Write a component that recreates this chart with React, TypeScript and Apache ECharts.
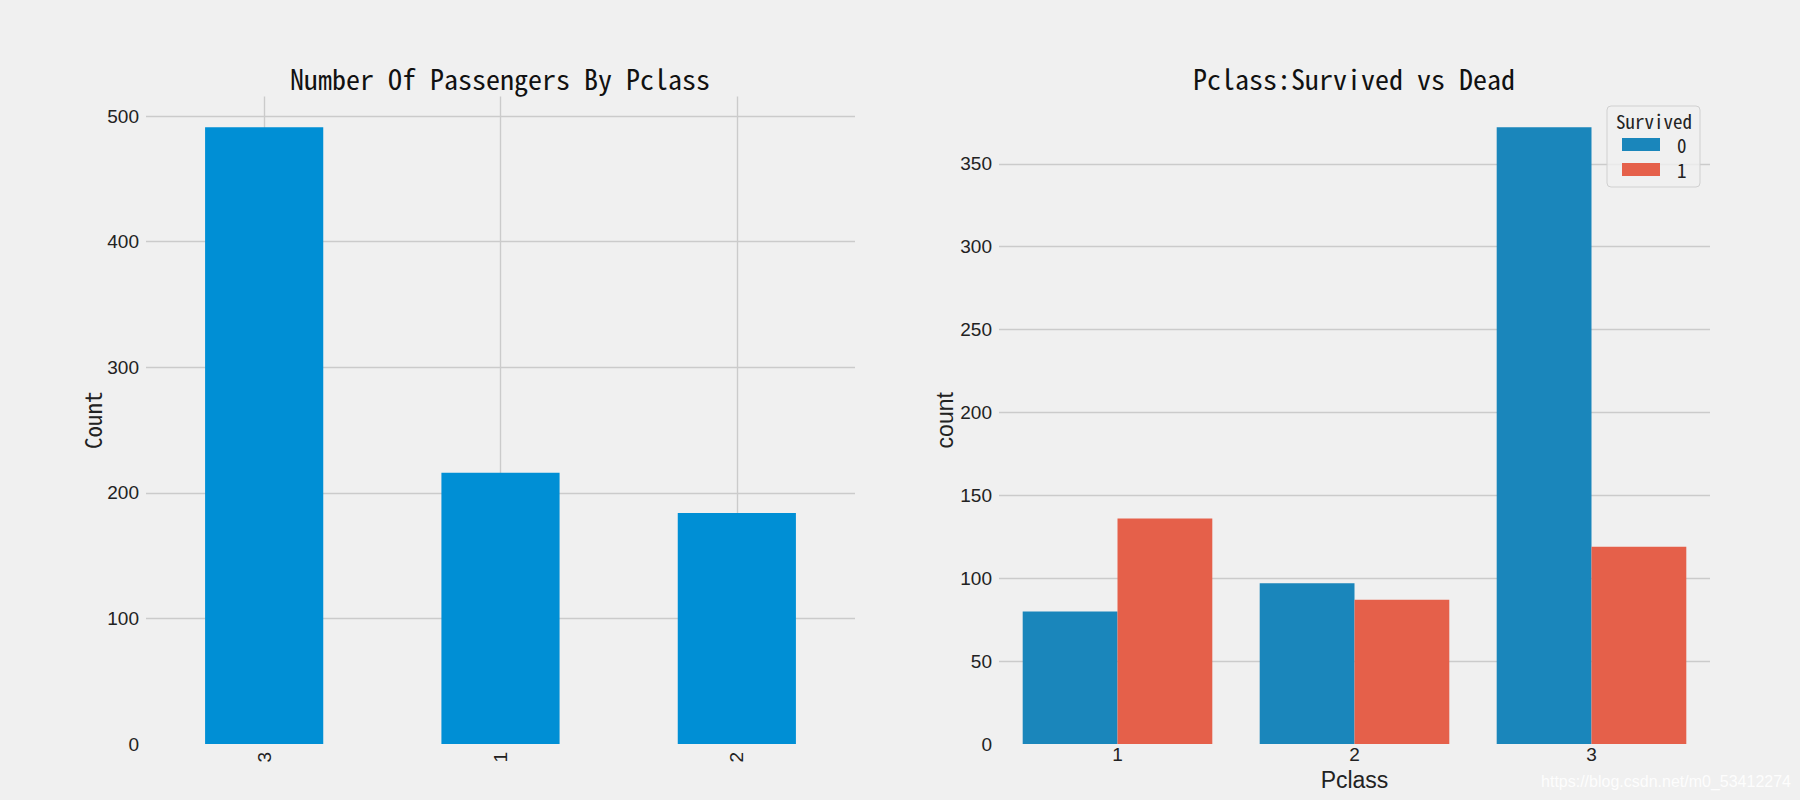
import React, { useEffect, useRef } from "react";
import * as echarts from "echarts";

// ---- data ----
const leftCategories = ["3", "1", "2"];
const passengerCounts = [491, 216, 184];
const rightCategories = ["1", "2", "3"];
const deadCounts = [80, 97, 372];
const survivedCounts = [136, 87, 119];
const survivedLegend = ["0", "1"];
const leftTickStep = 100;
const rightTickStep = 50;

const BG = "#f0f0f0";
const GRID = "#cbcbcb";
const NARROW = "'Noto Sans Mono CJK SC', 'Noto Sans CJK SC', 'Liberation Mono', monospace";
const SANS = "'Liberation Sans', Arial, sans-serif";
const TXT = "#222222";

export default function App() {
  const ref = useRef<HTMLDivElement>(null);
  useEffect(() => {
    document.body.style.margin = "0";
    const chart = echarts.init(ref.current!, null, { renderer: "svg" });
    const leftMax = Math.max(...passengerCounts) * 1.05;
    const rightMax = Math.max(...deadCounts, ...survivedCounts) * 1.05;
    const option: any = {
      animation: false,
      backgroundColor: BG,
      grid: [
        { left: 146, top: 96.5, width: 709, height: 647.5, outerBoundsMode: "none", containLabel: false },
        { left: 999, top: 96.5, width: 711, height: 647.5, outerBoundsMode: "none", containLabel: false },
      ],
      xAxis: [
        {
          type: "category",
          gridIndex: 0,
          data: leftCategories,
          axisLine: { show: false },
          axisTick: { show: false },
          axisLabel: { rotate: 90, margin: 8, fontFamily: SANS, fontSize: 19, color: TXT },
          splitLine: { show: true, alignWithLabel: true, lineStyle: { color: GRID, width: 1.4 } },
        },
        {
          type: "category",
          gridIndex: 1,
          data: rightCategories,
          name: "Pclass",
          nameLocation: "middle",
          nameGap: 23.5,
          nameTextStyle: { fontFamily: SANS, fontSize: 23, lineHeight: 23, color: TXT },
          axisLine: { show: false },
          axisTick: { show: false },
          axisLabel: { margin: 1, fontFamily: SANS, fontSize: 19, lineHeight: 19, color: TXT },
          splitLine: { show: false },
        },
      ],
      yAxis: [
        {
          type: "value",
          gridIndex: 0,
          min: 0,
          max: leftMax,
          interval: leftTickStep,
          name: "Count",
          nameLocation: "middle",
          nameGap: 43,
          nameTextStyle: { fontFamily: NARROW, fontSize: 23, color: TXT },
          axisLine: { show: false },
          axisTick: { show: false },
          axisLabel: { margin: 7, fontFamily: SANS, fontSize: 19, color: TXT, showMaxLabel: false },
          splitLine: { show: true, showMinLine: false, showMaxLine: false, lineStyle: { color: GRID, width: 1.4 } },
        },
        {
          type: "value",
          gridIndex: 1,
          min: 0,
          max: rightMax,
          interval: rightTickStep,
          name: "count",
          nameLocation: "middle",
          nameGap: 43,
          nameTextStyle: { fontFamily: SANS, fontSize: 23, color: TXT },
          axisLine: { show: false },
          axisTick: { show: false },
          axisLabel: { margin: 7, fontFamily: SANS, fontSize: 19, color: TXT, showMaxLabel: false },
          splitLine: { show: true, showMinLine: false, showMaxLine: false, lineStyle: { color: GRID, width: 1.4 } },
        },
      ],
      legend: {
        orient: "vertical",
        left: 1622,
        top: 135,
        padding: 0,
        itemWidth: 38,
        itemHeight: 13,
        itemGap: 6,
        icon: "rect",
        data: survivedLegend,
        textStyle: { fontFamily: NARROW, fontSize: 19, color: TXT, padding: [0, 0, 0, 12] },
        z: 20,
      },
      series: [
        {
          type: "bar",
          name: "passengers",
          xAxisIndex: 0,
          yAxisIndex: 0,
          data: passengerCounts,
          barWidth: "50%",
          itemStyle: { color: "#008fd5" },
        },
        {
          type: "bar",
          name: survivedLegend[0],
          xAxisIndex: 1,
          yAxisIndex: 1,
          data: deadCounts,
          barGap: "0%",
          barCategoryGap: "20%",
          itemStyle: { color: "#1a86bb" },
        },
        {
          type: "bar",
          name: survivedLegend[1],
          xAxisIndex: 1,
          yAxisIndex: 1,
          data: survivedCounts,
          barGap: "0%",
          barCategoryGap: "20%",
          itemStyle: { color: "#e5604a" },
        },
      ],
      graphic: [
        {
          type: "text",
          x: 500,
          y: 78,
          style: {
            text: "Number Of Passengers By Pclass",
            fontFamily: NARROW,
            fontSize: 28,
            fill: "#111",
            textAlign: "center",
            textVerticalAlign: "middle",
          },
        },
        {
          type: "text",
          x: 1354,
          y: 78,
          style: {
            text: "Pclass:Survived vs Dead",
            fontFamily: NARROW,
            fontSize: 28,
            fill: "#111",
            textAlign: "center",
            textVerticalAlign: "middle",
          },
        },
        {
          type: "rect",
          z: 10,
          shape: { x: 1607, y: 106, width: 93, height: 81, r: 4 },
          style: { fill: "rgba(240,240,240,0.8)", stroke: "#d0d0d0", lineWidth: 1 },
        },
        {
          type: "text",
          z: 11,
          x: 1654,
          y: 120,
          style: {
            text: "Survived",
            fontFamily: NARROW,
            fontSize: 19,
            fill: TXT,
            textAlign: "center",
            textVerticalAlign: "middle",
          },
        },
        {
          type: "text",
          z: 11,
          x: 1791,
          y: 781,
          style: {
            text: "https://blog.csdn.net/m0_53412274",
            fontFamily: SANS,
            fontSize: 16,
            fill: "rgba(255,255,255,0.9)",
            textAlign: "right",
            textVerticalAlign: "middle",
          },
        },
      ],
    };
    chart.setOption(option);
    return () => chart.dispose();
  }, []);
  return (
    <div
      ref={ref}
      style={{ position: "fixed", left: 0, top: 0, width: 1800, height: 800 }}
    />
  );
}
